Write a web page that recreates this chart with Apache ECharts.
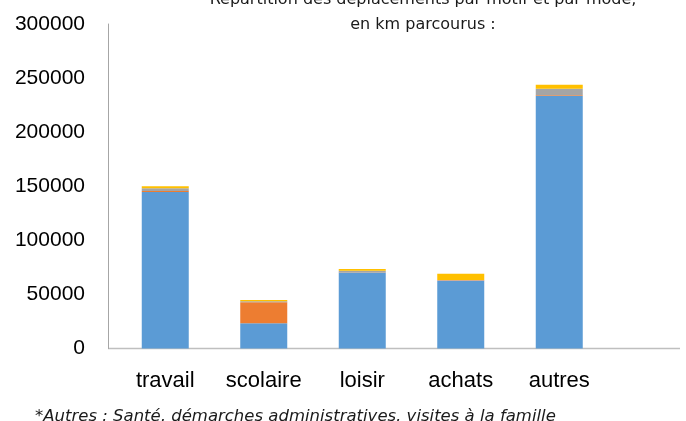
<!DOCTYPE html>
<html>
<head>
<meta charset="utf-8">
<script src="https://cdn.jsdelivr.net/npm/echarts@6/dist/echarts.min.js"></script>
<style>
  html, body { margin: 0; padding: 0; background: #ffffff; }
  #chart { width: 686px; height: 421px; }
</style>
</head>
<body>
<div id="chart"></div>
<script>
// Motifs de déplacement
const categories = ['travail', 'scolaire', 'loisir', 'achats', 'autres'];

// Kilomètres parcourus par mode (empilés)
const voiture = [144700, 23300, 70300, 62700, 233400];
const transportsCommun = [900, 19400, 300, 300, 700];
const deuxRoues = [2600, 900, 1300, 400, 6100];
const marche = [1800, 1200, 1600, 5800, 3700];

// Graduations de l'axe vertical
const yTicks = [0, 50000, 100000, 150000, 200000, 250000, 300000];

const colors = ['#5b9bd5', '#ed7d31', '#a5a5a5', '#ffc000'];
const font = 'Liberation Sans';

const chart = echarts.init(document.getElementById('chart'));

function stackSeries(name, data, color) {
  return {
    name: name,
    type: 'bar',
    stack: 'total',
    data: data,
    barWidth: 47,
    itemStyle: { color: color },
    emphasis: { disabled: true }
  };
}

// Zone de tracé : les catégories occupent la partie gauche,
// l'axe horizontal se prolonge jusqu'au bord droit.
const gridLeft = 116, gridRight = 77.5, gridTop = 24, gridBottom = 72.5;
const W = 686, H = 421;

chart.setOption({
  animation: false,
  backgroundColor: '#ffffff',
  title: {
    text: 'Répartition des déplacements par motif et par mode,\nen km parcourus :',
    left: 418,
    top: -18,
    textAlign: 'center',
    textStyle: {
      fontFamily: 'DejaVu Sans',
      fontSize: 16,
      fontWeight: 'normal',
      color: '#1a1a1a',
      lineHeight: 25
    }
  },
  grid: {
    left: gridLeft,
    right: gridRight,
    top: gridTop,
    bottom: gridBottom,
    containLabel: false
  },
  xAxis: {
    type: 'category',
    data: categories,
    axisLine: { show: false },
    axisTick: { show: false },
    axisLabel: {
      interval: 0,
      fontFamily: font,
      fontSize: 22,
      color: '#000000',
      margin: 21
    },
    splitLine: { show: false }
  },
  yAxis: {
    type: 'value',
    min: yTicks[0],
    max: yTicks[yTicks.length - 1],
    interval: yTicks[1] - yTicks[0],
    offset: 8,
    axisLine: { show: true, lineStyle: { color: '#a6a6a6', width: 1 } },
    axisTick: { show: false },
    splitLine: { show: false },
    axisLabel: {
      fontFamily: font,
      fontSize: 21,
      color: '#000000',
      margin: 23,
      formatter: function (v) { return String(v); }
    }
  },
  series: [
    stackSeries('voiture', voiture, colors[0]),
    stackSeries('transports en commun', transportsCommun, colors[1]),
    stackSeries('deux-roues', deuxRoues, colors[2]),
    stackSeries('marche', marche, colors[3])
  ],
  graphic: [
    {
      // ligne de base de l'axe horizontal
      type: 'line',
      shape: { x1: gridLeft - 8, y1: H - gridBottom, x2: W - 6, y2: H - gridBottom },
      style: { stroke: '#bfbfbf', lineWidth: 1.5 },
      silent: true
    },
    {
      type: 'text',
      left: 35,
      top: 408,
      style: {
        text: '*Autres : Santé, démarches administratives, visites à la famille',
        fontFamily: 'DejaVu Sans',
        fontSize: 16.5,
        fontStyle: 'italic',
        fill: '#1a1a1a'
      }
    }
  ]
});
</script>
</body>
</html>
